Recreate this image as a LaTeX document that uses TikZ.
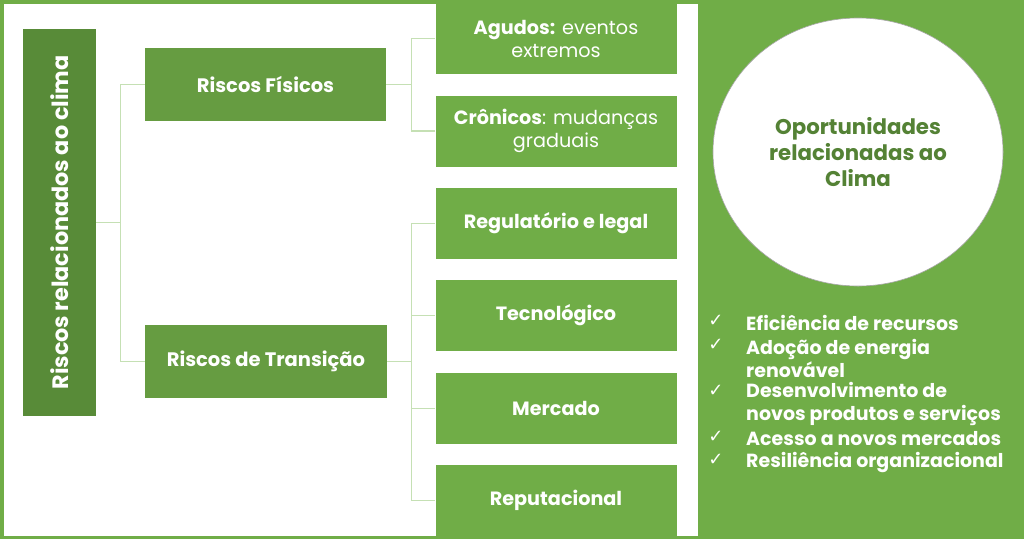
\documentclass[tikz,border=0pt]{standalone}
\usepackage{fontspec}
\usepackage{graphicx}
\usepackage{xcolor}
\setmainfont{Poppins}
\newfontfamily\checkfont{DejaVu Sans}
\usetikzlibrary{shapes.geometric}
\definecolor{panelGreen}{HTML}{70AD47}
\definecolor{midGreen}{HTML}{669C41}
\definecolor{darkGreen}{HTML}{588B38}
\definecolor{titleGreen}{HTML}{548235}
\definecolor{paleGreen}{HTML}{C5E0B4}
\newcommand\lineColor{paleGreen}

\begin{document}
\begin{tikzpicture}[x=1pt, y=-1pt,
    box/.style={fill=#1, text=white, inner sep=0pt, align=center},
    link/.style={draw=\lineColor, line width=1.3pt},
    item/.style={text=white, anchor=west, align=left, inner sep=0pt,
        font=\fontsize{19}{23}\selectfont\bfseries}]
    \useasboundingbox (0,0) rectangle (1024,539);
    \fill[panelGreen] (0,0) rectangle (1024,539);
    \fill[white] (3.5,3.5) rectangle (698,535.5);

    % left column
    \node[box=darkGreen, minimum width=73pt, minimum height=387pt] (clima) at (59.5,222.5)
        {\rotatebox{90}{\fontsize{22.3}{24}\selectfont\bfseries Riscos relacionados ao clima}};
    \node[box=midGreen, minimum width=241pt, minimum height=73pt,
        font=\fontsize{19.5}{23}\selectfont\bfseries] (fisicos) at (265.5,84.5) {Riscos Físicos};
    \node[box=midGreen, minimum width=242pt, minimum height=73pt,
        font=\fontsize{19.5}{23}\selectfont\bfseries] (transicao) at (266,361.5) {Riscos de Transição};

    % boxes of the third column
    \tikzset{sub/.style={box=panelGreen, minimum width=241pt, minimum height=71pt,
        font=\fontsize{19.2}{23}\selectfont}}
    \node[sub] (agudos) at (556,38.5) {\textbf{Agudos:} eventos\\extremos};
    \node[sub] (cronicos) at (556,131) {\textbf{Crônicos}: mudanças\\graduais};
    \node[sub, font=\fontsize{19.2}{23}\selectfont\bfseries] (regulatorio) at (556,223.5) {Regulatório e legal};
    \node[sub, font=\fontsize{19.2}{23}\selectfont\bfseries] (tecnologico) at (556,315.5) {Tecnológico};
    \node[sub, font=\fontsize{19.2}{23}\selectfont\bfseries] (mercado) at (556,408.5) {Mercado};
    \node[sub, font=\fontsize{19.2}{23}\selectfont\bfseries] (reputacional) at (556,500.5) {Reputacional};

    % connectors
    \draw[link] (clima.east) -- ++(24,0) |- (fisicos.west);
    \draw[link] (clima.east) -- ++(24,0) |- (transicao.west);
    \foreach \n in {agudos, cronicos}
        \draw[link] (fisicos.east) -- ++(25,0) |- (\n.west);
    \foreach \n in {regulatorio, tecnologico, mercado, reputacional}
        \draw[link] (transicao.east) -- ++(24,0) |- (\n.west);

    % opportunities
    \node[ellipse, fill=white, draw=gray!70, line width=0.6pt, minimum width=290pt,
        minimum height=268pt, text=titleGreen, align=center,
        font=\fontsize{21.3}{26}\selectfont\bfseries] (oportunidades) at (858,152)
        {Oportunidades\\relacionadas ao\\Clima};

    \node[item] (eficiencia) at (746,323) {Eficiência de recursos};
    \node[item] (adocao) at (746,358.5) {Adoção de energia\\renovável};
    \node[item] (desenvolvimento) at (746,404) {Desenvolvimento de\\novos produtos e serviços};
    \node[item] (acesso) at (746,439) {Acesso a novos mercados};
    \node[item] (resiliencia) at (746,462) {Resiliência organizacional};
    \foreach \y in {321,345,391,437,460}
        \node[text=white, font=\checkfont\fontsize{18}{18}\selectfont] at (716,\y) {✓};
\end{tikzpicture}
\end{document}
